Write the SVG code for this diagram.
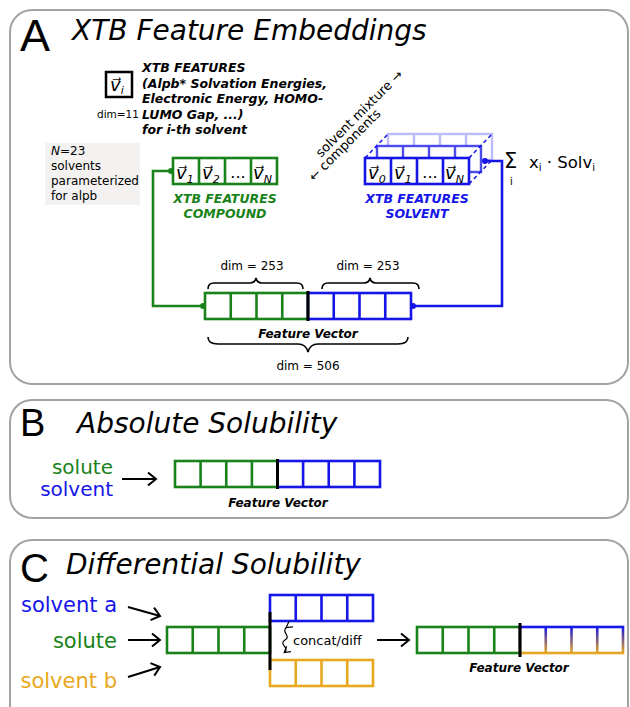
<svg xmlns="http://www.w3.org/2000/svg" width="630" height="707" viewBox="0 0 630 707">
<style>
.panel{fill:#fff;stroke:#a3a3a3;stroke-width:2}
.big{font-family:"Liberation Sans",Arial,sans-serif;fill:#000}
.title{font-family:"DejaVu Sans",Verdana,sans-serif;font-style:italic;fill:#000;font-size:28px}
.bi{font-family:"DejaVu Sans",Verdana,sans-serif;font-weight:bold;font-style:italic}
.reg{font-family:"DejaVu Sans",Verdana,sans-serif}
.vl{font-family:"DejaVu Sans",Verdana,sans-serif;font-style:italic;font-size:18px;fill:#000}
.sub{font-size:11px}
.g{stroke:#1a821a}
.b{stroke:#1515e8}
.o{stroke:#e8a820}
.cell{fill:#fff;stroke-width:2.6}
.cl{fill:none;stroke-width:2.6}
.div{stroke:#000;stroke-width:3}
.brace{fill:none;stroke:#000;stroke-width:1.6}
.arr{stroke:#000;stroke-width:2;fill:none}
</style>
<defs>
<marker id="ah" markerUnits="userSpaceOnUse" markerWidth="14" markerHeight="16" refX="10" refY="8" orient="auto">
<path d="M2,1.5 L10,8 L2,14.5" fill="none" stroke="#000" stroke-width="2"/>
</marker>
<marker id="sa" markerUnits="userSpaceOnUse" markerWidth="8" markerHeight="8" refX="5" refY="4" orient="auto">
<path d="M0,0.5 L6,4 L0,7.5" fill="none" stroke="#000" stroke-width="1.2"/>
</marker>
<linearGradient id="bo" gradientUnits="userSpaceOnUse" x1="0" y1="627" x2="0" y2="653">
<stop offset="0" stop-color="#1515e8"/>
<stop offset="1" stop-color="#e8a820"/>
</linearGradient>
</defs>

<!-- Panels -->
<g id="panelA"><rect class="panel" x="10" y="10" width="618" height="374" rx="22"/></g>
<g id="panelB"><rect class="panel" x="10" y="400" width="618" height="118" rx="22"/></g>
<g id="panelC"><rect class="panel" x="10" y="540" width="618" height="200" rx="22"/></g>

<!-- Panel A -->
<g id="titleA">
<text class="big" x="20" y="51" font-size="45">A</text>
<text class="title" x="72" y="40">XTB Feature Embeddings</text>
</g>

<g id="vi-node">
<rect x="106" y="72" width="26" height="25" fill="#fff" stroke="#000" stroke-width="2.5"/>
<text class="vl" x="110" y="91" font-size="17">v⃗<tspan class="sub" dy="3">i</tspan></text>
<text class="reg" x="139" y="118" font-size="10.5" text-anchor="end">dim=11</text>
</g>

<g id="xtb-desc" class="bi" font-size="12.5" fill="#000">
<text x="142" y="72">XTB FEATURES</text>
<text x="142" y="87.5">(Alpb* Solvation Energies,</text>
<text x="142" y="103">Electronic Energy, HOMO-</text>
<text x="142" y="118.5">LUMO Gap, ...)</text>
<text x="142" y="134">for i-th solvent</text>
</g>

<g id="n23">
<rect x="45" y="143" width="95" height="62" fill="#f3f2f1"/>
<g class="reg" font-size="12" fill="#000">
<text x="51" y="155"><tspan font-style="italic">N</tspan>=23</text>
<text x="51" y="170">solvents</text>
<text x="51" y="185">parameterized</text>
<text x="51" y="200">for alpb</text>
</g>
</g>

<g id="compound-vec">
<rect class="cell g" x="173" y="158" width="104" height="26"/>
<path class="cl g" d="M199,158V184M225,158V184M251,158V184"/>
<text class="vl" x="176" y="179">v⃗<tspan class="sub" dy="4">1</tspan></text>
<text class="vl" x="202" y="179">v⃗<tspan class="sub" dy="4">2</tspan></text>
<text class="reg" x="238" y="178" font-size="16" text-anchor="middle">...</text>
<text class="vl" x="253" y="179">v⃗<tspan class="sub" dy="4">N</tspan></text>
<text class="bi" x="225" y="203" font-size="12.5" fill="#1a821a" text-anchor="middle">XTB FEATURES</text>
<text class="bi" x="225" y="218" font-size="12.5" fill="#1a821a" text-anchor="middle">COMPOUND</text>
</g>

<g id="mixture-label" class="reg" font-size="13" fill="#000">
<text transform="translate(321,158) rotate(-45)">solvent mixture →</text>
<text transform="translate(314,182) rotate(-45)">← components</text>
</g>

<g id="solvent-vec">
<rect x="388" y="134" width="104" height="26" fill="#fff" stroke="#bcbcf8" stroke-width="2.4"/>
<path d="M414,134V160M440,134V160M466,134V160" stroke="#bcbcf8" stroke-width="2.4"/>
<rect x="377" y="146" width="104" height="26" fill="#fff" stroke="#4b4bee" stroke-width="2.4"/>
<path d="M403,146V172M429,146V172M455,146V172" stroke="#4b4bee" stroke-width="2.4"/>
<path d="M365,158L388,134M469,158L492,134M469,184L492,160" stroke="#1515e8" stroke-width="1.5" stroke-dasharray="4,3"/>
<rect class="cell b" x="365" y="158" width="104" height="26"/>
<path class="cl b" d="M391,158V184M417,158V184M443,158V184"/>
<text class="vl" x="368" y="179">v⃗<tspan class="sub" dy="4">0</tspan></text>
<text class="vl" x="394" y="179">v⃗<tspan class="sub" dy="4">1</tspan></text>
<text class="reg" x="430" y="178" font-size="16" text-anchor="middle">...</text>
<text class="vl" x="445" y="179">v⃗<tspan class="sub" dy="4">N</tspan></text>
<text class="bi" x="417" y="203" font-size="12.5" fill="#1515e8" text-anchor="middle">XTB FEATURES</text>
<text class="bi" x="417" y="218" font-size="12.5" fill="#1515e8" text-anchor="middle">SOLVENT</text>
</g>

<g id="sum-label" class="reg" fill="#000">
<text x="504" y="168" font-size="21">Σ</text>
<text x="510" y="185" font-size="10">i</text>
<text x="529" y="168" font-size="16.5">x<tspan font-size="10" dy="3">i</tspan><tspan dy="-3"> · Solv</tspan><tspan font-size="10" dy="3">i</tspan></text>
</g>

<g id="featvecA">
<rect class="cell g" x="205" y="293" width="103" height="26"/>
<path class="cl g" d="M230.75,293V319M256.5,293V319M282.25,293V319"/>
<rect class="cell b" x="308" y="293" width="103" height="26"/>
<path class="cl b" d="M333.75,293V319M359.5,293V319M385.25,293V319"/>
<line class="div" x1="308" y1="291" x2="308" y2="321"/>
<text class="reg" x="252" y="270" font-size="12" text-anchor="middle">dim = 253</text>
<text class="reg" x="368" y="270" font-size="12" text-anchor="middle">dim = 253</text>
<path class="brace" d="M208,289 Q208,283 214,283 H250 Q255,283 256,278 Q257,283 262,283 H297 Q303,283 303,289"/>
<path class="brace" d="M322,289 Q322,283 328,283 H364 Q369,283 370,278 Q371,283 376,283 H413 Q419,283 419,289"/>
<text class="bi" x="308" y="338" font-size="12" fill="#000" text-anchor="middle">Feature Vector</text>
<path class="brace" stroke-width="2" d="M208,337 Q208,344 218,344 H298 Q306,344 308,352 Q310,344 318,344 H398 Q408,344 408,337"/>
<text class="reg" x="308" y="370" font-size="12" text-anchor="middle">dim = 506</text>
</g>

<g id="connectors-A">
<path d="M171,171 H153 V306 H203" fill="none" stroke="#1a821a" stroke-width="2.6"/>
<circle cx="171" cy="171" r="3" fill="#1a821a"/>
<circle cx="203" cy="306" r="3" fill="#1a821a"/>
<path d="M485,161 H502 V306 H413" fill="none" stroke="#1515e8" stroke-width="2.6"/>
<circle cx="485" cy="161" r="3" fill="#1515e8"/>
<circle cx="413" cy="306" r="3" fill="#1515e8"/>
</g>

<!-- Panel B -->
<g id="titleB">
<text class="big" x="20" y="436" font-size="38">B</text>
<text class="title" x="77" y="433">Absolute Solubility</text>
</g>
<g id="labelsB" class="reg" font-size="20" text-anchor="end">
<text x="113" y="474" fill="#1a821a">solute</text>
<text x="113" y="496" fill="#1515e8">solvent</text>
</g>
<g id="featvecB">
<rect class="cell g" x="175" y="461" width="102.5" height="26"/>
<path class="cl g" d="M200.6,461V487M226.25,461V487M251.9,461V487"/>
<rect class="cell b" x="277.5" y="461" width="102.5" height="26"/>
<path class="cl b" d="M303.1,461V487M328.75,461V487M354.4,461V487"/>
<line class="div" x1="277.5" y1="459" x2="277.5" y2="489"/>
<text class="bi" x="278" y="507" font-size="12" fill="#000" text-anchor="middle">Feature Vector</text>
</g>

<!-- Panel C -->
<g id="titleC">
<text class="big" x="20" y="582" font-size="40">C</text>
<text class="title" x="66" y="574" font-size="29">Differential Solubility</text>
</g>
<g id="labelsC" class="reg" font-size="21" text-anchor="end">
<text x="117" y="612" fill="#1515e8">solvent a</text>
<text x="117" y="648" fill="#1a821a">solute</text>
<text x="117" y="688" fill="#e8a820">solvent b</text>
</g>
<g id="soluteC">
<rect class="cell g" x="167" y="627" width="103" height="26"/>
<path class="cl g" d="M192.75,627V653M218.5,627V653M244.25,627V653"/>
</g>
<g id="solventA-C">
<rect class="cell b" x="270" y="595" width="103" height="26"/>
<path class="cl b" d="M295.75,595V621M321.5,595V621M347.25,595V621"/>
</g>
<g id="solventB-C">
<rect class="cell o" x="270" y="660" width="103" height="26"/>
<path class="cl o" d="M295.75,660V686M321.5,660V686M347.25,660V686"/>
</g>
<line class="div" x1="270" y1="612" x2="270" y2="670"/>
<g id="concat">
<path d="M287,627 C280,632 292,636 285,640 C278,644 290,648 285,652" fill="none" stroke="#000" stroke-width="1.2" marker-start="url(#sa)" marker-end="url(#sa)"/>
<text class="reg" x="293" y="645" font-size="13" fill="#000">concat/diff</text>
</g>
<g id="featvecC">
<rect class="cell g" x="417" y="627" width="103" height="26"/>
<path class="cl g" d="M442.75,627V653M468.5,627V653M494.25,627V653"/>
<rect x="520" y="627" width="103" height="26" fill="#fff" stroke="url(#bo)" stroke-width="2.6"/>
<path d="M545.75,627V653M571.5,627V653M597.25,627V653" fill="none" stroke="url(#bo)" stroke-width="2.6"/>
<line class="div" x1="520" y1="623" x2="520" y2="657"/>
<text class="bi" x="519" y="672" font-size="12" fill="#000" text-anchor="middle">Feature Vector</text>
</g>

<g id="connectors">
<line class="arr" x1="122" y1="479" x2="156" y2="479" marker-end="url(#ah)"/>
<line class="arr" x1="128" y1="607" x2="160" y2="616" marker-end="url(#ah)"/>
<line class="arr" x1="128" y1="640" x2="160" y2="640" marker-end="url(#ah)"/>
<line class="arr" x1="128" y1="677" x2="160" y2="667" marker-end="url(#ah)"/>
<line class="arr" x1="377" y1="640" x2="409" y2="640" marker-end="url(#ah)"/>
</g>
</svg>
